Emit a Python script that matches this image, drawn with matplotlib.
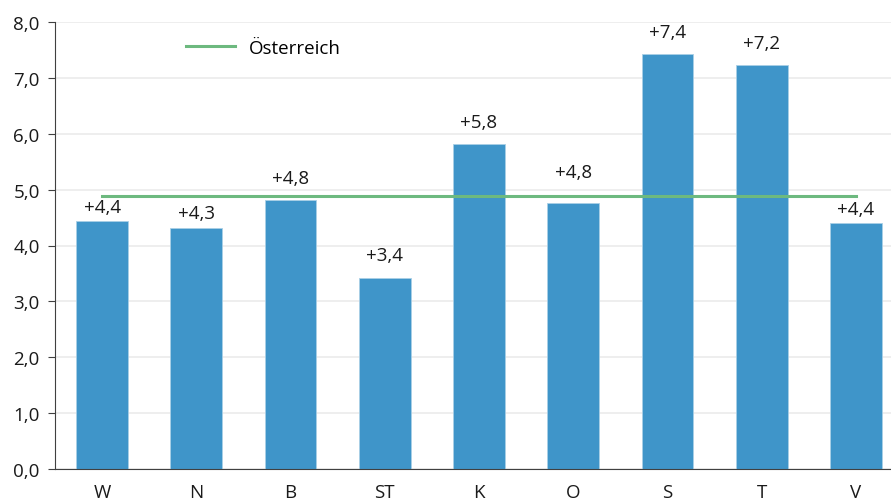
import matplotlib.pyplot as plt
import numpy as np

# Bundesländer und Werte
regions = ['W', 'N', 'B', 'ST', 'K', 'O', 'S', 'T', 'V']
values = [4.44, 4.31, 4.81, 3.41, 5.81, 4.76, 7.42, 7.23, 4.40]
austria = 4.88
y_ticks = [0, 1, 2, 3, 4, 5, 6, 7, 8]

# Abstand der Beschriftung über dem Balken (Punkte), teils verschoben wegen der Linie
label_gap = [10, 11, 16, 17, 16, 22, 16, 16, 10]

plt.rcParams['font.family'] = ['Open Sans', 'DejaVu Sans']
fs = 13.5

fig = plt.figure(figsize=(8.91, 5.02), dpi=100)
# Achse reicht rechts etwas über den Bildrand hinaus
ax = fig.add_axes([55 / 891, 32 / 502, 848 / 891, 447 / 502])

x = np.arange(len(regions))
ax.bar(x, values, width=0.55, color='#3F95C9', edgecolor='#A9CFE6', linewidth=0.6, zorder=2)

# Österreich-Durchschnitt als Linie über alle Balken
ax.plot([x[0], x[-1]], [austria, austria], color='#6DB97F', linewidth=2.2, zorder=3,
        label='Österreich')

for xi, v, g in zip(x, values, label_gap):
    ax.annotate(f'+{v:.1f}'.replace('.', ','), (xi, v), xytext=(0, g),
                textcoords='offset points', ha='center', va='center',
                fontsize=fs, color='#1a1a1a', zorder=4)

ax.set_xlim(-0.5, len(regions) - 0.5)
ax.set_ylim(0, 8)
ax.set_yticks(y_ticks)
ax.set_yticklabels([f'{t:.1f}'.replace('.', ',') for t in y_ticks])
ax.set_xticks(x)
ax.set_xticklabels(regions)

ax.grid(axis='y', color='#EBEBEB', linewidth=1.2, zorder=0)
ax.set_axisbelow(True)
for s in ['top', 'right']:
    ax.spines[s].set_visible(False)
ax.spines['left'].set_color('#404040')
ax.spines['bottom'].set_color('#404040')
ax.tick_params(axis='y', length=5, color='#404040', labelsize=fs, labelcolor='#1a1a1a', pad=6)
ax.tick_params(axis='x', length=0, labelsize=fs, labelcolor='#1a1a1a', pad=10)

ax.legend(loc='upper left', bbox_to_anchor=(0.135, 1.0), frameon=False, fontsize=fs,
          handlelength=2.6, handletextpad=0.75)

fig.savefig('out.png', dpi=100)
